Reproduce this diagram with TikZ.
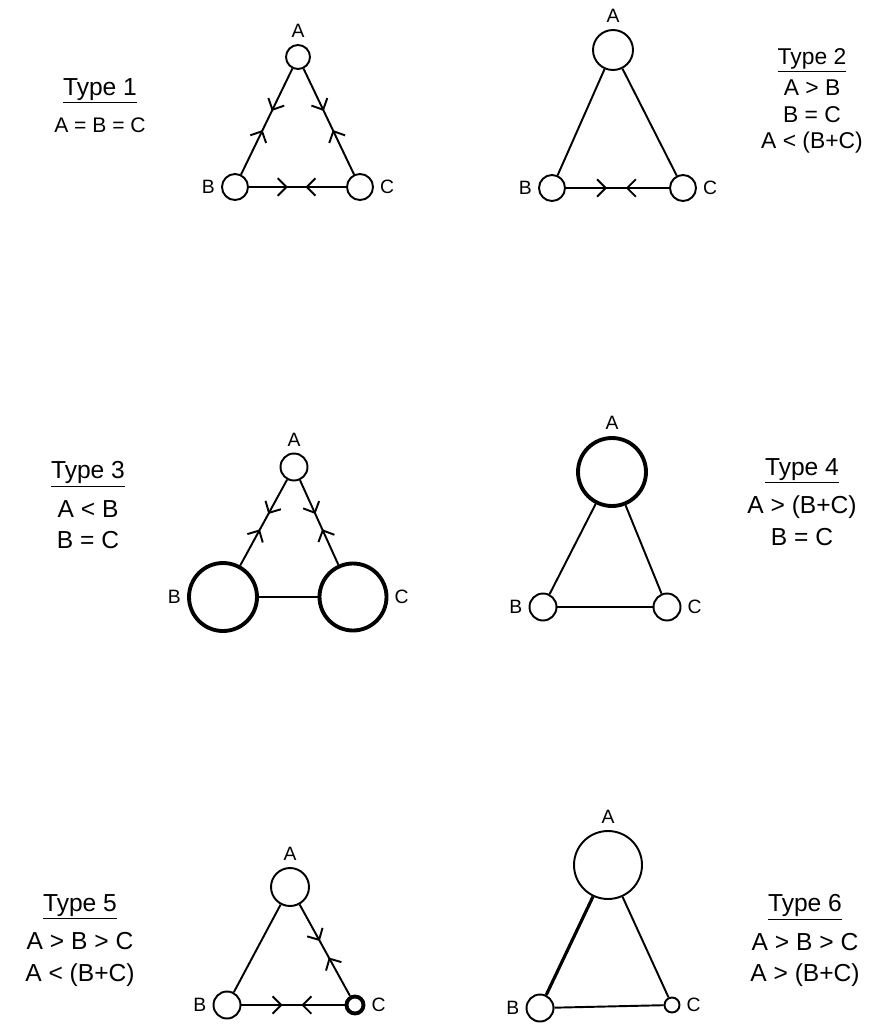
\documentclass[tikz,border=0pt]{standalone}
\usepackage{fontspec}
\setmainfont{Liberation Sans}
\usetikzlibrary{arrows.meta,decorations.markings}

\tikzset{
  vtx/.style={circle,draw,line width=1.1pt,inner sep=0pt,minimum size=#1},
  heavy/.style={line width=2.2pt},
  edge/.style={line width=1.1pt},
  meet/.style={postaction={decorate},decoration={markings,
    mark=at position 0.40 with {\arrow{Straight Barb[length=5pt,width=10pt]}},
    mark=at position 0.58 with {\arrowreversed{Straight Barb[length=5pt,width=10pt]}}}},
  note/.style={align=center,font=\fontsize{14}{18}\selectfont},
  small note/.style={align=center,font=\fontsize{13}{15}\selectfont},
  tag/.style={font=\fontsize{11}{12}\selectfont},
  every label/.style={tag}
}

\begin{document}
\begin{tikzpicture}[x=0.02cm,y=-0.02cm]
\useasboundingbox (0,0) rectangle (887,1024);

% Type 1
\node[vtx=0.48cm,label=above:A] (a1) at (298,57) {};
\node[vtx=0.52cm,label=left:B] (b1) at (235,187) {};
\node[vtx=0.52cm,label=right:C] (c1) at (360,187) {};
\draw[edge,meet] (a1) -- (b1);
\draw[edge,meet] (a1) -- (c1);
\draw[edge,meet] (b1) -- (c1);
\node[note,anchor=north] (t1) at (100,72) {\underline{Type 1}\\[3pt]\fontsize{12}{14}\selectfont A = B = C};

% Type 2
\node[vtx=0.8cm,label=above:A] (a2) at (613,50) {};
\node[vtx=0.52cm,label=left:B] (b2) at (552,188) {};
\node[vtx=0.52cm,label=right:C] (c2) at (683,188) {};
\draw[edge] (a2) -- (b2);
\draw[edge] (a2) -- (c2);
\draw[edge,meet] (b2) -- (c2);
\node[small note,anchor=north] (t2) at (812,42) {\underline{Type 2}\\[3pt]A > B\\B = C\\A < (B+C)};

% Type 3
\node[vtx=0.54cm,label=above:A] (a3) at (294,467) {};
\node[vtx=1.36cm,heavy,label=left:B] (b3) at (223,597) {};
\node[vtx=1.34cm,heavy,label=right:C] (c3) at (353,597) {};
\draw[edge,meet] (a3) -- (b3);
\draw[edge,meet] (a3) -- (c3);
\draw[edge] (b3) -- (c3);
\node[note,anchor=north] (t3) at (88,455) {\underline{Type 3}\\[4pt]A < B\\B = C};

% Type 4
\node[vtx=1.36cm,heavy,label=above:A] (a4) at (612,472) {};
\node[vtx=0.54cm,label=left:B] (b4) at (543,607) {};
\node[vtx=0.54cm,label=right:C] (c4) at (667,607) {};
\draw[edge] (a4) -- (b4);
\draw[edge] (a4) -- (c4);
\draw[edge] (b4) -- (c4);
\node[note,anchor=north] (t4) at (802,452) {\underline{Type 4}\\[4pt]A > (B+C)\\B = C};

% Type 5
\node[vtx=0.76cm,label=above:A] (a5) at (290,887) {};
\node[vtx=0.54cm,label=left:B] (b5) at (227,1005) {};
\node[vtx=0.34cm,heavy,label=right:C] (c5) at (355,1005) {};
\draw[edge] (a5) -- (b5);
\draw[edge,meet] (a5) -- (c5);
\draw[edge,meet] (b5) -- (c5);
\node[note,anchor=north] (t5) at (80,888) {\underline{Type 5}\\[4pt]A > B > C\\A < (B+C)};

% Type 6
\node[vtx=1.36cm,label=above:A] (a6) at (608,865) {};
\node[vtx=0.54cm,label=left:B] (b6) at (540,1008) {};
\node[vtx=0.3cm,label=right:C] (c6) at (672,1005) {};
\draw[edge,line width=1.8pt] (a6) -- (b6);
\draw[edge] (a6) -- (c6);
\draw[edge] (b6) -- (c6);
\node[note,anchor=north] (t6) at (805,888) {\underline{Type 6}\\[4pt]A > B > C\\A > (B+C)};
\end{tikzpicture}
\end{document}
